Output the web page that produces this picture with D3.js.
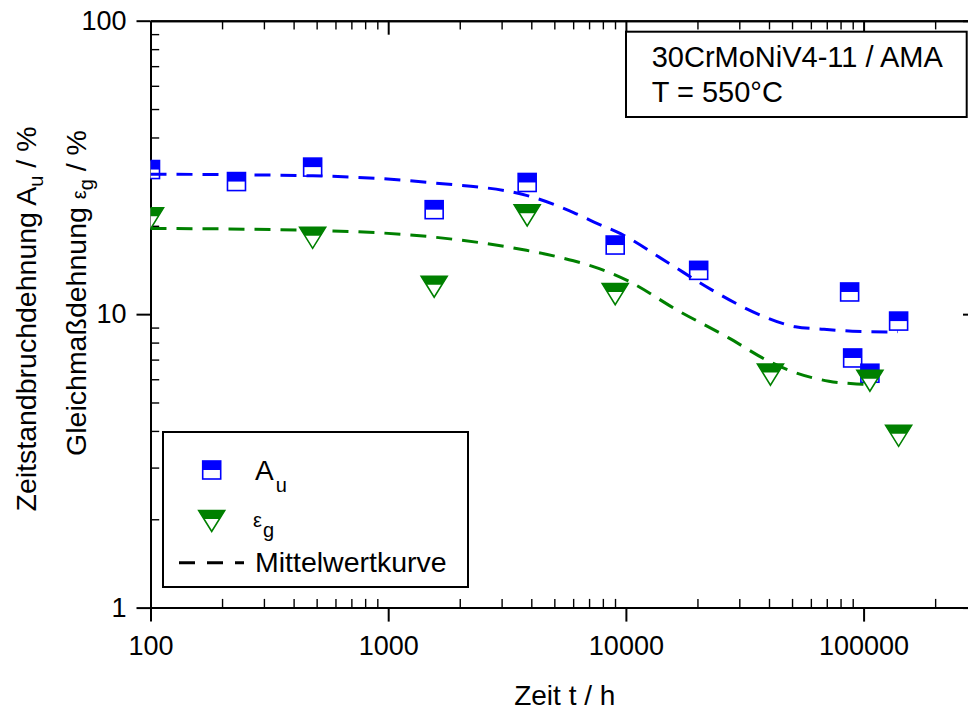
<!DOCTYPE html>
<html>
<head>
<meta charset="utf-8">
<script src="https://cdn.jsdelivr.net/npm/d3@7"></script>
<style>
  body { margin: 0; background: #fff; }
  svg { display: block; }
  text { font-family: "Liberation Sans", Arial, Helvetica, sans-serif; fill: #000; }
</style>
</head>
<body>
<svg id="chart" width="968" height="710"></svg>
<script>
// Creep rupture elongation A_u (%) over time to rupture (h)
const timeA  = [100, 230, 481, 1561, 3843, 9016, 20240, 87350, 89950, 106300, 140400];
const valueA = [31.1, 28.3, 31.7, 22.7, 28.1, 17.2, 14.1, 11.9, 7.09, 6.29, 9.47];

// Uniform elongation eps_g (%)
const timeEps  = [100, 481, 1561, 3843, 9016, 40560, 106300, 140400];
const valueEps = [21.2, 18.2, 12.4, 21.7, 11.7, 6.22, 5.93, 3.85];

// Mean curves
const fitTimeA  = [100, 482, 1559, 3816, 6022, 7345, 9500, 14990, 22960, 37400, 51600, 66730, 89700, 132500, 139500];
const fitValueA = [30.0, 29.6, 28.0, 25.4, 22.2, 20.6, 18.8, 15.0, 12.1, 9.87, 9.06, 8.89, 8.75, 8.70, 8.72];
const fitTimeEps  = [100, 482, 1559, 3816, 6022, 7345, 10170, 16510, 26950, 39800, 51600, 71420, 98800, 106300];
const fitValueEps = [19.6, 19.3, 18.3, 16.5, 15.2, 14.5, 13.0, 10.3, 8.32, 6.92, 6.32, 5.91, 5.77, 5.75];

// Axes
const xDomain = [100, 300000];
const yDomain = [1, 100];
const xTickValues = [100, 1000, 10000, 100000];
const yTickValues = [1, 10, 100];

const annotationLines = ["30CrMoNiV4-11 / AMA", "T = 550°C"];

const BLUE = "#0000ff";
const GREEN = "#008000";
const TICK_FONT = 27;
const TITLE_FONT = 28;

const svg = d3.select("#chart");
const plot = { left: 150.5, right: 977, top: 20.7, bottom: 607.6 };

const x = d3.scaleLog().domain(xDomain).range([plot.left, plot.right]);
const y = d3.scaleLog().domain(yDomain).range([plot.bottom, plot.top]);

const minorX = x.ticks().filter(t => !xTickValues.includes(t));
const minorY = y.ticks().filter(t => !yTickValues.includes(t));

svg.append("defs").append("clipPath").attr("id", "plotClip")
  .append("rect")
  .attr("x", plot.left).attr("y", plot.top)
  .attr("width", plot.right - plot.left).attr("height", plot.bottom - plot.top);

// ---- axes ----
function styleAxis(g, width) {
  g.select(".domain").attr("stroke", "#000").attr("stroke-width", 2);
  g.selectAll(".tick line").attr("stroke", "#000").attr("stroke-width", width);
  g.selectAll(".tick text").attr("font-size", TICK_FONT).attr("fill", "#000");
  g.attr("font-family", null).attr("font-size", null);
}

const axes = svg.append("g");

// bottom
axes.append("g").attr("transform", `translate(0,${plot.bottom})`)
  .call(d3.axisBottom(x).tickValues(minorX).tickSize(-8.7).tickSizeOuter(0).tickFormat(""))
  .call(g => styleAxis(g, 1.4));
axes.append("g").attr("transform", `translate(0,${plot.bottom})`)
  .call(d3.axisBottom(x).tickValues(xTickValues).tickSize(14).tickSizeOuter(0).tickPadding(14).tickFormat(d3.format("d")))
  .call(g => styleAxis(g, 2));

// top
axes.append("g").attr("transform", `translate(0,${plot.top})`)
  .call(d3.axisTop(x).tickValues(minorX).tickSize(-8.7).tickSizeOuter(0).tickFormat(""))
  .call(g => styleAxis(g, 1.4));
axes.append("g").attr("transform", `translate(0,${plot.top})`)
  .call(d3.axisTop(x).tickValues(xTickValues).tickSize(-14).tickSizeOuter(0).tickFormat(""))
  .call(g => styleAxis(g, 2));

// left
axes.append("g").attr("transform", `translate(${plot.left},0)`)
  .call(d3.axisLeft(y).tickValues(minorY).tickSize(-8.7).tickSizeOuter(0).tickFormat(""))
  .call(g => styleAxis(g, 1.4));
axes.append("g").attr("transform", `translate(${plot.left},0)`)
  .call(d3.axisLeft(y).tickValues(yTickValues).tickSize(14).tickSizeOuter(0).tickPadding(10).tickFormat(d3.format("d")))
  .call(g => styleAxis(g, 2));

// right
axes.append("g").attr("transform", `translate(${plot.right},0)`)
  .call(d3.axisRight(y).tickValues(minorY).tickSize(-8.7).tickSizeOuter(0).tickFormat(""))
  .call(g => styleAxis(g, 1.4));
axes.append("g").attr("transform", `translate(${plot.right},0)`)
  .call(d3.axisRight(y).tickValues(yTickValues).tickSize(-14).tickSizeOuter(0).tickFormat(""))
  .call(g => styleAxis(g, 2));

// ---- axis titles ----
svg.append("text")
  .attr("x", (plot.left + plot.right) / 2 + 1).attr("y", 705)
  .attr("text-anchor", "middle").attr("font-size", TITLE_FONT)
  .text("Zeit t / h");

const yTitle1 = svg.append("text")
  .attr("transform", "translate(36,319) rotate(-90)")
  .attr("text-anchor", "middle").attr("font-size", 28.5);
yTitle1.append("tspan").text("Zeitstandbruchdehnung A");
yTitle1.append("tspan").attr("font-size", 20).attr("dy", 7).text("u");
yTitle1.append("tspan").attr("dy", -7).text(" / %");

const yTitle2 = svg.append("text")
  .attr("transform", "translate(86,293) rotate(-90)")
  .attr("text-anchor", "middle").attr("font-size", 28.5);
yTitle2.append("tspan").text("Gleichmaßdehnung ");
yTitle2.append("tspan").attr("font-size", 20).text("ε");
yTitle2.append("tspan").attr("font-size", 20).attr("dy", 7).text("g");
yTitle2.append("tspan").attr("dy", -7).text(" / %");

// ---- markers ----
function drawSquare(g, cx, cy) {
  const s = 18;
  g.append("rect").attr("x", cx - s / 2).attr("y", cy - s / 2).attr("width", s).attr("height", s)
    .attr("fill", "#fff").attr("stroke", BLUE).attr("stroke-width", 1.6);
  g.append("rect").attr("x", cx - s / 2).attr("y", cy - s / 2).attr("width", s).attr("height", s / 2)
    .attr("fill", BLUE);
}
function drawTriangle(g, cx, cy) {
  const w = 26, h = 21, f = 0.4;
  const top = cy - h / 2;
  g.append("polygon")
    .attr("points", [[cx - w / 2, top], [cx + w / 2, top], [cx, cy + h / 2]].map(p => p.join(",")).join(" "))
    .attr("fill", "#fff").attr("stroke", GREEN).attr("stroke-width", 1.6);
  const hw = (w / 2) * (1 - f);
  g.append("polygon")
    .attr("points", [[cx - w / 2, top], [cx + w / 2, top], [cx + hw, top + f * h], [cx - hw, top + f * h]].map(p => p.join(",")).join(" "))
    .attr("fill", GREEN);
}

const data = svg.append("g").attr("clip-path", "url(#plotClip)");

const sqG = data.append("g");
timeA.forEach((t, i) => drawSquare(sqG, x(t), y(valueA[i])));
const triG = data.append("g");
timeEps.forEach((t, i) => drawTriangle(triG, x(t), y(valueEps[i])));

// ---- mean curves ----
const line = d3.line().x(d => x(d[0])).y(d => y(d[1])).curve(d3.curveMonotoneX);
data.append("path")
  .attr("d", line(fitTimeA.map((t, i) => [t, fitValueA[i]])))
  .attr("fill", "none").attr("stroke", BLUE).attr("stroke-width", 3).attr("stroke-dasharray", "16,10");
data.append("path")
  .attr("d", line(fitTimeEps.map((t, i) => [t, fitValueEps[i]])))
  .attr("fill", "none").attr("stroke", GREEN).attr("stroke-width", 3).attr("stroke-dasharray", "16,10");

// ---- annotation box ----
const ann = svg.append("g");
ann.append("rect").attr("x", 626).attr("y", 31.7).attr("width", 340.7).attr("height", 85.3)
  .attr("fill", "#fff").attr("stroke", "#000").attr("stroke-width", 2);
annotationLines.forEach((s, i) => {
  ann.append("text").attr("x", 651.7).attr("y", 66.7 + i * 35).attr("font-size", 29).text(s);
});

// ---- legend ----
const leg = svg.append("g");
leg.append("rect").attr("x", 163).attr("y", 432).attr("width", 305).attr("height", 155)
  .attr("fill", "#fff").attr("stroke", "#000").attr("stroke-width", 2);
drawSquare(leg, 211.7, 470);
const lA = leg.append("text").attr("x", 255).attr("y", 480).attr("font-size", 28);
lA.append("tspan").text("A");
lA.append("tspan").attr("font-size", 20).attr("dx", 2).attr("dy", 11.7).text("u");

drawTriangle(leg, 211.7, 521);
const lE = leg.append("text").attr("x", 253).attr("y", 527).attr("font-size", 20);
lE.append("tspan").text("ε");
lE.append("tspan").attr("font-size", 20).attr("dx", 1).attr("dy", 10).text("g");

leg.append("line").attr("x1", 179).attr("x2", 244).attr("y1", 562.7).attr("y2", 562.7)
  .attr("stroke", "#000").attr("stroke-width", 3).attr("stroke-dasharray", "16,12");
leg.append("text").attr("x", 255).attr("y", 571.7).attr("font-size", 28.5).text("Mittelwertkurve");
</script>
</body>
</html>
